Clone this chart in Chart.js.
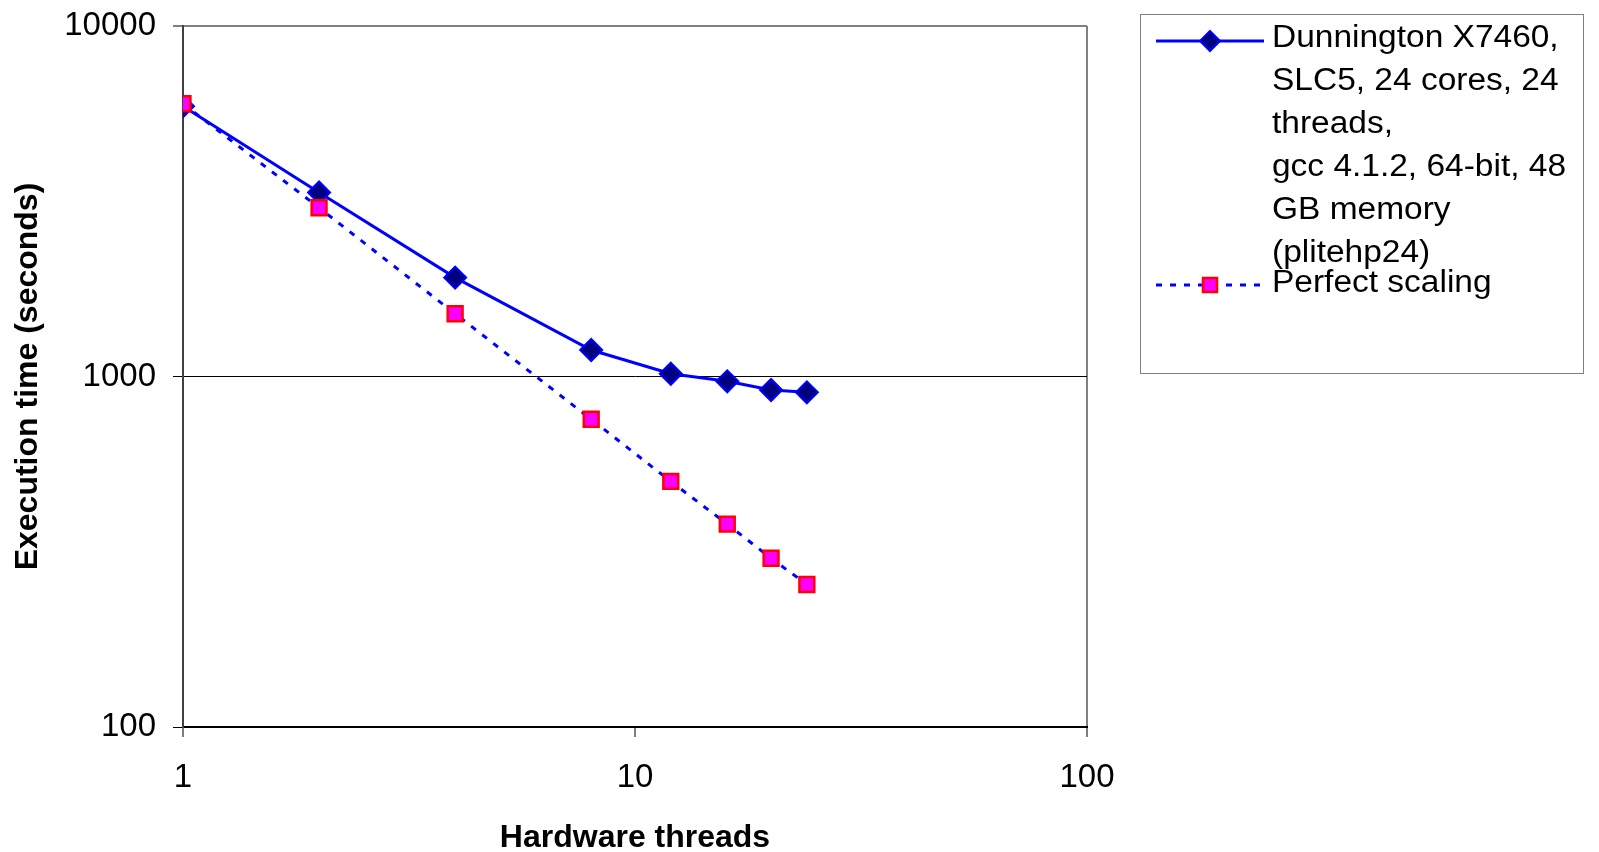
<!DOCTYPE html>
<html>
<head>
<meta charset="utf-8">
<script src="https://cdn.jsdelivr.net/npm/chart.js@4.4.0/dist/chart.umd.min.js"></script>
<style>
  body { margin: 0; background: #fff; font-family: 'Liberation Sans', Arial, sans-serif; }
  #wrap { position: relative; width: 1599px; height: 852px; }
  #legend { position: absolute; left: 1140px; top: 14px; width: 444px; height: 360px; border: 1px solid #808080; box-sizing: border-box; }
  .entry { position: absolute; left: 0; width: 100%; }
  .entry svg { position: absolute; left: 14px; }
  .entry .txt { position: absolute; left: 131px; top: 0; font-size: 31px; line-height: 43px; white-space: nowrap; color: #000; transform: scaleX(1.08); transform-origin: left top; }
</style>
</head>
<body>
<div id="wrap">
  <canvas id="chart" width="1599" height="852"></canvas>
  <div id="legend"></div>
</div>
<script>
// data
const threads = [1, 2, 4, 8, 12, 16, 20, 24];
const dunnington = [5900, 3350, 1915, 1190, 1018, 969, 915, 901];
const perfect = [6000, 3030, 1510, 755, 502, 379, 303, 255];
const xTicks = [1, 10, 100];
const yTicks = [100, 1000, 10000];
const dunningtonLines = ['Dunnington X7460,', 'SLC5, 24 cores, 24', 'threads,', 'gcc 4.1.2, 64-bit, 48', 'GB memory', '(plitehp24)'];
const perfectLabel = 'Perfect scaling';

document.addEventListener('DOMContentLoaded', function() {
    const ctx = document.getElementById('chart').getContext('2d');
    const fam = "'Liberation Sans', Arial, sans-serif";
    const tickFont = { family: fam, size: 33 };
    const titleFont = { family: fam, size: 32, weight: 'bold' };

    new Chart(ctx, {
        type: 'line',
        data: {
            datasets: [{
                label: perfectLabel,
                data: threads.map((t, i) => ({ x: t, y: perfect[i] })),
                borderColor: '#0000ff',
                borderWidth: 3,
                borderDash: [6, 8],
                pointStyle: 'rect',
                pointRadius: 10.5,
                pointBackgroundColor: '#ff00ff',
                pointBorderColor: '#ff0000',
                pointBorderWidth: 2.5,
                order: 0
            }, {
                label: dunningtonLines.join(' '),
                data: threads.map((t, i) => ({ x: t, y: dunnington[i] })),
                borderColor: '#0000ff',
                borderWidth: 3,
                pointStyle: 'rectRot',
                pointRadius: 11,
                pointBackgroundColor: '#000080',
                pointBorderColor: '#0000ff',
                pointBorderWidth: 2,
                order: 1
            }]
        },
        options: {
            responsive: false,
            animation: false,
            devicePixelRatio: 1,
            layout: { padding: { left: 0, top: 26, right: 512, bottom: 0 } },
            plugins: { legend: { display: false }, tooltip: { enabled: false } },
            scales: {
                x: {
                    type: 'logarithmic',
                    min: 1,
                    max: 100,
                    afterBuildTicks: s => { s.ticks = xTicks.map(v => ({ value: v })); },
                    afterFit: s => { s.height = 125; s.paddingLeft = 0; s.paddingRight = 0; },
                    ticks: { color: '#000', font: tickFont, padding: 21, maxRotation: 0, autoSkip: false, callback: v => String(v) },
                    grid: {
                        color: c => (c.tick && c.tick.value === 100) ? '#808080' : 'rgba(0,0,0,0)',
                        lineWidth: 2,
                        tickColor: '#000',
                        tickWidth: 1,
                        tickLength: 10
                    },
                    border: { color: '#000', width: 2 },
                    title: { display: true, text: 'Hardware threads', color: '#000', font: titleFont, padding: { top: 0, bottom: -5 } }
                },
                y: {
                    type: 'logarithmic',
                    min: 100,
                    max: 10000,
                    afterBuildTicks: s => { s.ticks = yTicks.map(v => ({ value: v })); },
                    afterFit: s => { s.width = 183; s.paddingTop = 0; s.paddingBottom = 0; },
                    ticks: { color: '#000', font: tickFont, padding: 17, autoSkip: false, callback: v => String(v) },
                    grid: {
                        color: c => {
                            if (!c.tick) return 'rgba(0,0,0,0)';
                            if (c.tick.value === 10000) return '#808080';
                            if (c.tick.value === 1000) return '#000';
                            return 'rgba(0,0,0,0)';
                        },
                        lineWidth: c => (c.tick && c.tick.value === 10000) ? 2 : 1,
                        tickColor: '#000',
                        tickWidth: 1,
                        tickLength: 10
                    },
                    border: { color: '#404040', width: 2 },
                    title: { display: true, text: 'Execution time (seconds)', color: '#000', font: titleFont, padding: { top: 9, bottom: 0 } }
                }
            }
        }
    });

    // legend, laid out like the original box
    const legend = document.getElementById('legend');
    const e1 = document.createElement('div');
    e1.className = 'entry';
    e1.style.top = '0px';
    e1.innerHTML =
        '<svg width="110" height="30" style="top:11px">' +
        '<line x1="1" y1="15" x2="109" y2="15" stroke="#0000ff" stroke-width="3"/>' +
        '<polygon points="55,5 65,15 55,25 45,15" fill="#000080" stroke="#0000ff" stroke-width="2"/>' +
        '</svg><div class="txt"></div>';
    e1.querySelector('.txt').innerHTML = dunningtonLines.join('<br>');
    legend.appendChild(e1);

    const e2 = document.createElement('div');
    e2.className = 'entry';
    e2.style.top = '245px';
    e2.innerHTML =
        '<svg width="110" height="30" style="top:10px">' +
        '<line x1="1" y1="15" x2="109" y2="15" stroke="#0000ff" stroke-width="3" stroke-dasharray="6 8"/>' +
        '<rect x="48" y="8" width="14" height="14" fill="#ff00ff" stroke="#ff0000" stroke-width="2.5"/>' +
        '</svg><div class="txt"></div>';
    e2.querySelector('.txt').textContent = perfectLabel;
    legend.appendChild(e2);
});
</script>
</body>
</html>
